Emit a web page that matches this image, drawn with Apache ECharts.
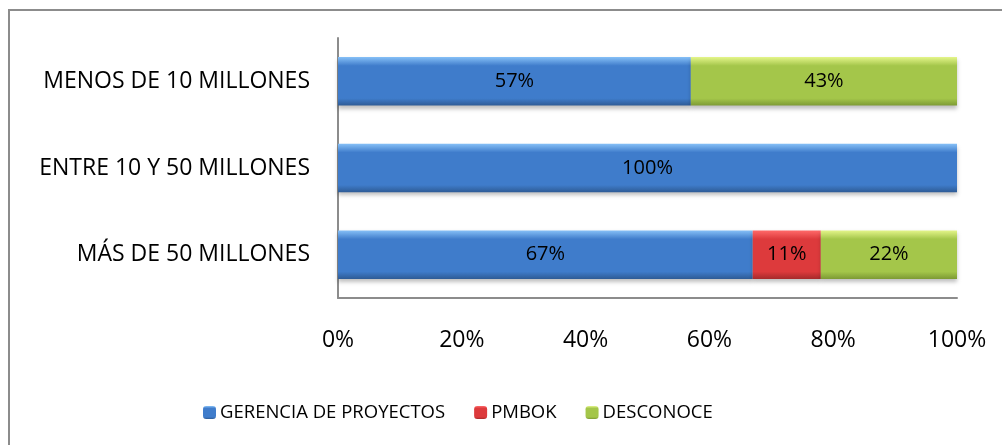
<!DOCTYPE html>
<html>
<head>
<meta charset="utf-8">
<script src="https://cdn.jsdelivr.net/npm/echarts@6/dist/echarts.min.js"></script>
<style>
  html, body { margin: 0; padding: 0; background: #ffffff; }
  #chart { width: 1002px; height: 445px; }
</style>
</head>
<body>
<div id="chart"></div>
<script>
// Categories listed bottom-to-top (ECharts category y-axis grows upward)
const categories = ['MÁS DE 50 MILLONES', 'ENTRE 10 Y 50 MILLONES', 'MENOS DE 10 MILLONES'];
const seriesNames = ['GERENCIA DE PROYECTOS', 'PMBOK', 'DESCONOCE'];
const gerencia = [67, 100, 57];
const pmbok = [11, 0, 0];
const desconoce = [22, 0, 43];
const xTicks = [0, 20, 40, 60, 80, 100];

const FONT = 'Open Sans, Liberation Sans, sans-serif';

function vgrad(top, mid, bottom) {
  return new echarts.graphic.LinearGradient(0, 0, 0, 1, [
    { offset: 0, color: top },
    { offset: 0.18, color: mid },
    { offset: 0.85, color: mid },
    { offset: 1, color: bottom }
  ]);
}

const styles = [
  vgrad('#86c0f7', '#3f7ccb', '#2e5b95'),
  vgrad('#ff6a6a', '#dd3a3c', '#a62a2b'),
  vgrad('#e4f58a', '#a4c64a', '#7d9a34')
];

const data = [gerencia, pmbok, desconoce];

const chart = echarts.init(document.getElementById('chart'));
chart.setOption({
  animation: false,
  backgroundColor: '#ffffff',
  graphic: [{
    type: 'rect',
    shape: { x: 9, y: 10, width: 1010, height: 460 },
    style: { fill: 'none', stroke: '#8c8c8c', lineWidth: 2 }
  }],
  grid: { left: 338, right: 45, top: 38, bottom: 147 },
  legend: {
    top: 398,
    left: 198,
    itemWidth: 13,
    itemHeight: 13,
    itemGap: 29,
    textStyle: { fontFamily: FONT, fontSize: 18.5, color: '#000', padding: [0, 0, 0, -1] },
    data: seriesNames.map((n, i) => ({ name: n, itemStyle: { color: styles[i] } }))
  },
  xAxis: {
    type: 'value',
    min: 0,
    max: 100,
    interval: 20,
    axisLine: { show: true, lineStyle: { color: '#8c8c8c', width: 2 } },
    axisTick: { show: false },
    splitLine: { show: false },
    axisLabel: {
      margin: 31,
      fontFamily: FONT,
      fontSize: 23,
      color: '#000',
      formatter: v => xTicks.includes(v) ? v + '%' : ''
    }
  },
  yAxis: {
    type: 'category',
    data: categories,
    axisLine: { show: true, lineStyle: { color: '#8c8c8c', width: 2 } },
    axisTick: { show: false },
    axisLabel: { margin: 28, fontFamily: FONT, fontSize: 23, color: '#000' }
  },
  series: seriesNames.map((name, i) => ({
    name: name,
    type: 'bar',
    stack: 'total',
    barWidth: '56%',
    itemStyle: {
      color: styles[i],
      shadowColor: 'rgba(0,0,0,0.25)',
      shadowBlur: 4,
      shadowOffsetY: 3
    },
    label: {
      show: true,
      position: 'inside',
      fontFamily: FONT,
      fontSize: 20,
      color: '#000',
      formatter: p => p.value > 0 ? p.value + '%' : ''
    },
    data: data[i].map(v => v === 0 ? null : v)
  }))
});
</script>
</body>
</html>
